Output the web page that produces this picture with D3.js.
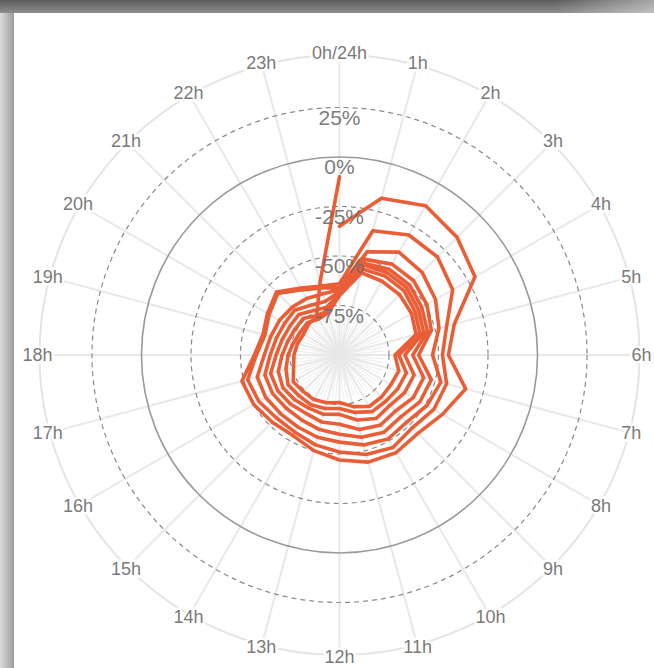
<!DOCTYPE html>
<html>
<head>
<meta charset="utf-8">
<script src="https://cdn.jsdelivr.net/npm/d3@7"></script>
<style>
  html, body { margin: 0; padding: 0; background: #fff; }
  svg { display: block; }
  text { font-family: "Liberation Sans", Arial, Helvetica, sans-serif; }
</style>
</head>
<body>
<svg id="chart" width="654" height="668"></svg>
<script>
// ---- data ----
const hourLabels = ["0h/24h","1h","2h","3h","4h","5h","6h","7h","8h","9h","10h","11h",
                    "12h","13h","14h","15h","16h","17h","18h","19h","20h","21h","22h","23h"];
const radialTicks = [25, 0, -25, -50, -75];
const solidTick = 0;

// hourly values (%) per day, 0h..23h
const day1 = [-35,-18,-13,-16,-21,-40,-45,-34,-40,-44,-43,-44,-47,-50,-53,-52,-50,-49,-57,-60,-58,-55,-61,-64];
const day2 = [-64,-35,-30,-30,-34,-44,-48,-44,-45,-48,-46,-48,-51,-53,-55,-55,-53,-52,-58,-61,-59,-56,-62,-65];
const day3 = [-66,-46,-40,-41,-44,-48,-53,-47,-49,-52,-51,-53,-56,-57,-58,-58,-57,-57,-62,-64,-65,-66,-67,-68];
const day4 = [-67,-50,-47,-47,-49,-52,-60,-52,-53,-56,-55,-57,-60,-61,-62,-62,-61,-61,-65,-67,-68,-68,-71,-72];
const day5 = [-68,-52,-50,-50,-52,-54,-63,-56,-57,-60,-59,-61,-65,-65,-66,-65,-64,-64,-68,-70,-71,-71,-74,-75];
const day6 = [-69,-53,-52,-52,-54,-56,-67,-61,-62,-64,-63,-66,-70,-69,-69,-68,-67,-68,-71,-73,-74,-74,-77,-77];
const day7 = [-69,-55,-54,-54,-56,-58,-70,-65,-66,-67,-67,-70,-73,-72,-71,-71,-70,-72,-74,-76,-77,-77,-79,-78];
const day8 = [-70,-57,-57,-57,-58,-60,-72,-69,-70,-70,-70,-73,-76,-75,-74,-74,-73,-76,-77,-78,-79,-78,-77,-62];
const endValue = -10; // value at the closing 24h point
const days = [day1, day2, day3, day4, day5, day6, day7, day8];

// ---- layout ----
const W = 654, H = 668;
const cx = 339.5, cy = 355;
const outerR = 300;

const svg = d3.select("#chart");

// frame / shadow
const defs = svg.append("defs");
const gTop = defs.append("linearGradient").attr("id","gTop").attr("x1",0).attr("y1",0).attr("x2",0).attr("y2",1);
gTop.append("stop").attr("offset","0%").attr("stop-color","#5c5c5c");
gTop.append("stop").attr("offset","100%").attr("stop-color","#8e8e8e");
const gTopR = defs.append("linearGradient").attr("id","gTopR").attr("x1",0).attr("y1",0).attr("x2",1).attr("y2",0);
gTopR.append("stop").attr("offset","0%").attr("stop-color","#fff").attr("stop-opacity",0);
gTopR.append("stop").attr("offset","85%").attr("stop-color","#fff").attr("stop-opacity",0);
gTopR.append("stop").attr("offset","100%").attr("stop-color","#fff").attr("stop-opacity",0.45);
const gLeft = defs.append("linearGradient").attr("id","gLeft").attr("x1",0).attr("y1",0).attr("x2",1).attr("y2",0);
gLeft.append("stop").attr("offset","0%").attr("stop-color","#dcdcdc");
gLeft.append("stop").attr("offset","100%").attr("stop-color","#9c9c9c");

svg.append("rect").attr("x",0).attr("y",0).attr("width",W).attr("height",H).attr("fill","#fff");
svg.append("rect").attr("x",0).attr("y",13).attr("width",14).attr("height",H-13).attr("fill","url(#gLeft)");
svg.append("rect").attr("x",0).attr("y",0).attr("width",W).attr("height",13).attr("fill","url(#gTop)");
svg.append("rect").attr("x",0).attr("y",0).attr("width",W).attr("height",13).attr("fill","url(#gTopR)");

// scales
const r = d3.scaleLinear().domain([-100, 51.5]).range([0, outerR]);
const ang = d3.scaleLinear().domain([0, 24]).range([0, 2 * Math.PI]);

const g = svg.append("g").attr("transform", `translate(${cx},${cy})`);

// minor spokes in the centre
const minor = d3.range(0, 72);
g.append("g").selectAll("line").data(minor).join("line")
  .attr("x1", 0).attr("y1", 0)
  .attr("x2", d => 44 * Math.sin(d / 72 * 2 * Math.PI))
  .attr("y2", d => -44 * Math.cos(d / 72 * 2 * Math.PI))
  .attr("stroke", "#ececec").attr("stroke-width", 1);

// hour spokes
g.append("g").selectAll("line").data(d3.range(24)).join("line")
  .attr("x1", 0).attr("y1", 0)
  .attr("x2", d => outerR * Math.sin(ang(d)))
  .attr("y2", d => -outerR * Math.cos(ang(d)))
  .attr("stroke", "#e8e8e8").attr("stroke-width", 2);

// outer ring
g.append("circle").attr("r", outerR).attr("fill", "none")
  .attr("stroke", "#e4e4e4").attr("stroke-width", 2);

// radial grid circles
g.append("g").selectAll("circle").data(radialTicks).join("circle")
  .attr("r", d => r(d)).attr("fill", "none")
  .attr("stroke", d => d === solidTick ? "#9a9a9a" : "#8a8a8a")
  .attr("stroke-width", d => d === solidTick ? 1.6 : 1.2)
  .attr("stroke-dasharray", d => d === solidTick ? null : "5,4");

// series (continuous spiral, one loop per day)
const series = [];
days.forEach((dv, i) => dv.forEach((v, h) => series.push({ t: i * 24 + h, v })));
series.push({ t: days.length * 24, v: endValue });

const line = d3.lineRadial()
  .angle(d => ang(d.t))
  .radius(d => r(d.v))
  .curve(d3.curveLinear);

g.append("path").datum(series)
  .attr("d", line)
  .attr("fill", "none")
  .attr("stroke", "#e8552c")
  .attr("stroke-width", 3.6)
  .attr("stroke-linejoin", "round")
  .attr("stroke-linecap", "round")
  .attr("opacity", 0.95);

// radial tick labels
g.append("g").selectAll("text").data(radialTicks).join("text")
  .attr("x", 0).attr("y", d => -r(d) + 2)
  .attr("text-anchor", "middle")
  .attr("dominant-baseline", "hanging")
  .attr("font-size", 21)
  .attr("fill", "#6a6a6a")
  .attr("fill-opacity", 0.9)
  .text(d => d + "%");

// hour labels
const labelR = 302;
g.append("g").selectAll("text").data(hourLabels).join("text")
  .attr("x", (d, i) => labelR * Math.sin(ang(i)))
  .attr("y", (d, i) => -labelR * Math.cos(ang(i)))
  .attr("text-anchor", "middle")
  .attr("dominant-baseline", "central")
  .attr("font-size", 18)
  .attr("fill", "#7a7a7a")
  .attr("stroke", "#fff").attr("stroke-width", 5)
  .attr("paint-order", "stroke")
  .text(d => d);
</script>
</body>
</html>
